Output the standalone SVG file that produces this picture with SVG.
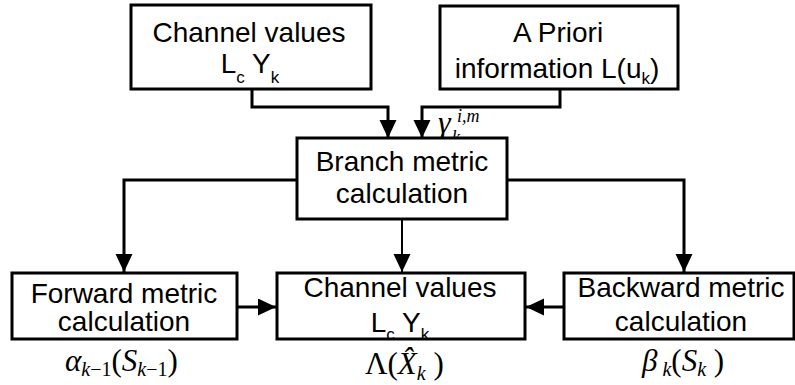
<svg xmlns="http://www.w3.org/2000/svg" width="795" height="385" viewBox="0 0 795 385">
  <style>
    .box { fill: #ffffff; stroke: #000000; stroke-width: 3; }
    .lbl { font-family: "Liberation Sans", Arial, sans-serif; font-size: 28px; fill: #000000; text-anchor: middle; }
    .sub { font-size: 17px; }
    .math { font-family: "Liberation Serif", "Times New Roman", serif; font-style: italic; font-size: 31px; fill: #000000; }
    .msub { font-size: 20px; }
    .gsym { font-size: 32px; }
    .gidx { font-size: 18px; }
    .wire { fill: none; stroke: #000000; stroke-width: 3; }
    .thin { fill: none; stroke: #000000; stroke-width: 2; }
  </style>
  <defs>
    <marker id="arrow" markerUnits="userSpaceOnUse" markerWidth="20" markerHeight="18" refX="18" refY="8.5" orient="auto">
      <path d="M0,0 L18,8.5 L0,17 z" fill="#000000"/>
    </marker>
  </defs>

  <rect width="795" height="385" fill="#ffffff"/>

  <!-- connectors -->
  <g id="connectors">
    <path class="wire" d="M252,89 V107 H388 V138" marker-end="url(#arrow)"/>
    <path class="wire" d="M560,89 V107 H422 V138" marker-end="url(#arrow)"/>
    <path class="wire" d="M297,180 H124 V272" marker-end="url(#arrow)"/>
    <path class="wire" d="M507,180 H684 V272" marker-end="url(#arrow)"/>
    <path class="thin" d="M402,219 V272" marker-end="url(#arrow)"/>
    <path class="wire" d="M237,307 H276" marker-end="url(#arrow)"/>
    <path class="wire" d="M564,307 H526" marker-end="url(#arrow)"/>
  </g>

  <!-- channel values (input) -->
  <g id="channel-in">
    <rect class="box" x="131" y="5" width="240" height="84"/>
    <text class="lbl" x="249" y="42">Channel values</text>
    <text class="lbl" x="250" y="73">L<tspan class="sub" dy="10">c</tspan><tspan dy="-10"> Y</tspan><tspan class="sub" dy="10">k</tspan></text>
  </g>

  <!-- a priori information -->
  <g id="apriori">
    <rect class="box" x="440" y="6" width="238" height="83"/>
    <text class="lbl" x="558" y="42">A Priori</text>
    <text class="lbl" x="557" y="78">information L(u<tspan class="sub" dy="6">k</tspan><tspan dy="-6">)</tspan></text>
  </g>

  <!-- gamma label: symbol, superscript, subscript -->
  <text class="math gsym" x="438" y="133">γ</text>
  <text class="math gidx" x="457" y="122">i,m</text>
  <text class="math gidx" x="452" y="143">k</text>

  <!-- branch metric -->
  <g id="branch">
    <rect class="box" x="297" y="138" width="210" height="81"/>
    <text class="lbl" x="402" y="171">Branch metric</text>
    <text class="lbl" x="402" y="203">calculation</text>
  </g>

  <!-- forward metric -->
  <g id="forward">
    <rect class="box" x="12" y="273" width="225" height="66"/>
    <text class="lbl" x="124" y="303">Forward metric</text>
    <text class="lbl" x="124" y="331">calculation</text>
  </g>

  <!-- channel values (output) -->
  <g id="channel-out">
    <rect class="box" x="277" y="273" width="248" height="66"/>
    <text class="lbl" x="400" y="297">Channel values</text>
    <text class="lbl" x="400" y="332">L<tspan class="sub" dy="8">c</tspan><tspan dy="-8"> Y</tspan><tspan class="sub" dy="8">k</tspan></text>
  </g>

  <!-- backward metric -->
  <g id="backward">
    <rect class="box" x="564" y="273" width="230" height="66"/>
    <text class="lbl" x="681" y="297">Backward metric</text>
    <text class="lbl" x="681" y="331">calculation</text>
  </g>

  <!-- metric labels -->
  <text class="math" x="65" y="371">α<tspan class="msub" dy="5">k</tspan><tspan class="msub" font-style="normal">−1</tspan><tspan dy="-5" font-style="normal">(</tspan>S<tspan class="msub" dy="5">k</tspan><tspan class="msub" font-style="normal">−1</tspan><tspan dy="-5" font-style="normal">)</tspan></text>
  <text class="math" x="365" y="374"><tspan font-style="normal">Λ(</tspan>X̂<tspan class="msub" dy="6">k</tspan><tspan dy="-6" font-style="normal"> )</tspan></text>
  <text class="math" x="642" y="371">β<tspan class="msub" dy="5"> k</tspan><tspan dy="-5" font-style="normal">(</tspan>S<tspan class="msub" dy="5">k</tspan><tspan dy="-5" font-style="normal"> )</tspan></text>
</svg>
